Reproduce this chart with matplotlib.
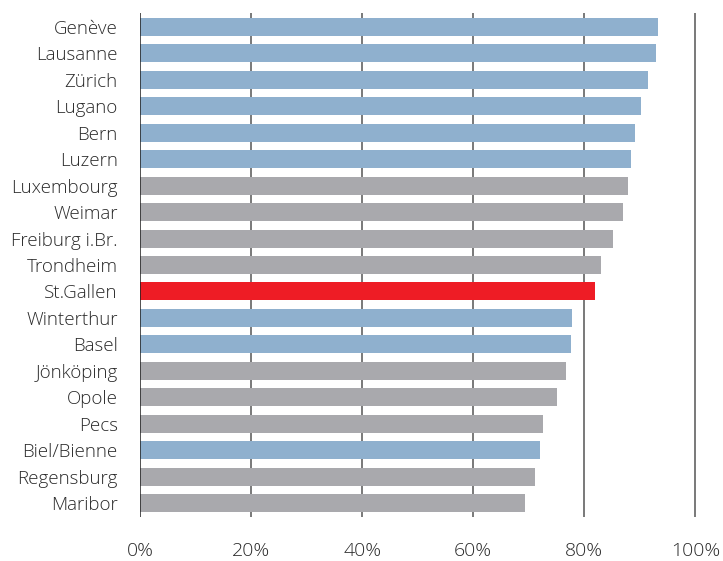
import matplotlib
matplotlib.use("Agg")
import matplotlib.pyplot as plt

cities = ["Genève", "Lausanne", "Zürich", "Lugano", "Bern", "Luzern",
          "Luxembourg", "Weimar", "Freiburg i.Br.", "Trondheim", "St.Gallen",
          "Winterthur", "Basel", "Jönköping", "Opole", "Pecs", "Biel/Bienne",
          "Regensburg", "Maribor"]
values = [93.2, 92.9, 91.4, 90.2, 89.1, 88.4,
          87.9, 87.0, 85.2, 83.0, 81.9,
          77.8, 77.6, 76.7, 75.1, 72.6, 72.0,
          71.1, 69.3]
# group: ch = Swiss city, other = foreign, home = highlighted
groups = ["ch", "ch", "ch", "ch", "ch", "ch",
          "other", "other", "other", "other", "home",
          "ch", "ch", "other", "other", "other", "ch",
          "other", "other"]
ticks = [0, 20, 40, 60, 80, 100]
tick_labels = ["0%", "20%", "40%", "60%", "80%", "100%"]

colors = {"ch": "#8fb0ce", "other": "#a9a9ad", "home": "#ee1c25"}

plt.rcParams['font.family'] = ['Open Sans', 'DejaVu Sans']
plt.rcParams['font.weight'] = 'light'

fig = plt.figure(figsize=(7.23, 5.61), dpi=100)
ax = fig.add_axes([140 / 723, 1 - 517 / 561, 557 / 723, 504 / 561])

pos = list(range(len(cities)))
ax.barh(pos, values, height=0.68, color=[colors[g] for g in groups], zorder=2)

for t in ticks[1:]:
    ax.axvline(t, color="#555555", lw=1.1, zorder=1)
ax.axvline(0, color="#222222", lw=1.1, zorder=3)

ax.set_xlim(0, 100.3)
ax.set_ylim(len(cities) - 0.47, -0.53)
ax.set_xticks(ticks)
ax.set_xticklabels(tick_labels)
ax.set_yticks(pos)
ax.set_yticklabels(cities)
ax.tick_params(axis="x", length=0, pad=18, labelsize=14, labelcolor="#2a2a2a")
ax.tick_params(axis="y", length=0, pad=16, labelsize=13.5, labelcolor="#2a2a2a")
for s in ax.spines.values():
    s.set_visible(False)

fig.savefig("out.png", dpi=100)
